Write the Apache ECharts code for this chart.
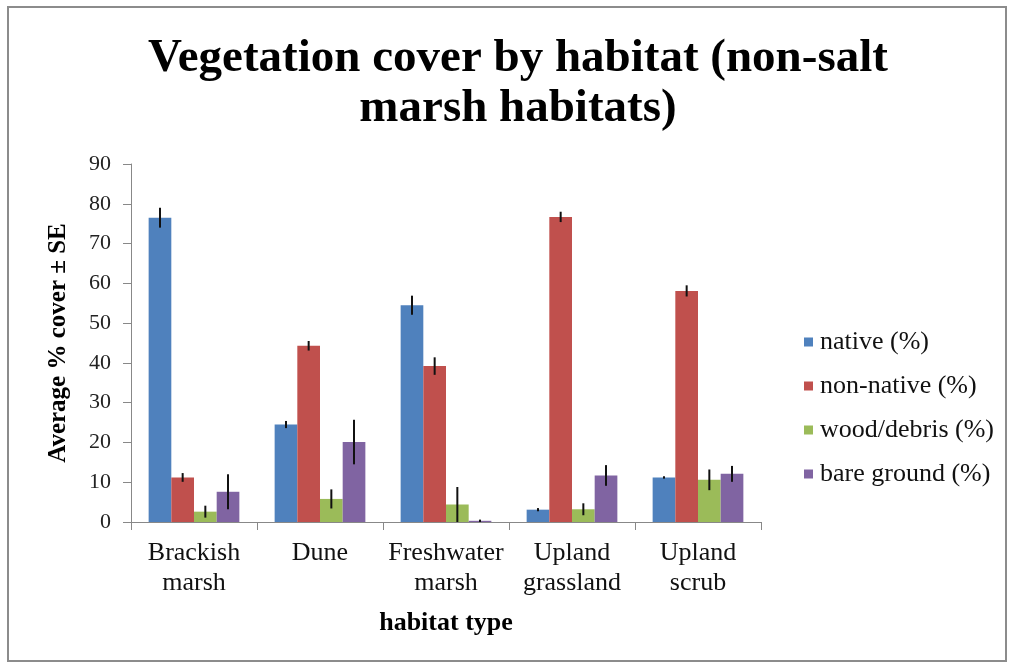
<!DOCTYPE html>
<html>
<head>
<meta charset="utf-8">
<script src="https://cdn.jsdelivr.net/npm/echarts@6/dist/echarts.min.js"></script>
<style>
html,body{margin:0;padding:0;background:#fff;}
#chart{width:1010px;height:664px;}
</style>
</head>
<body>
<div id="chart"></div>
<script>
const categories = ['Brackish\nmarsh', 'Dune', 'Freshwater\nmarsh', 'Upland\ngrassland', 'Upland\nscrub'];
const seriesNames = ['native (%)', 'non-native (%)', 'wood/debris (%)', 'bare ground (%)'];
const nativeVals = [76.5, 24.5, 54.5, 3.1, 11.2];
const nonNativeVals = [11.2, 44.3, 39.2, 76.7, 58.1];
const woodVals = [2.6, 5.8, 4.4, 3.2, 10.6];
const bareVals = [7.6, 20.1, 0.3, 11.7, 12.1];
const nativeErr = [2.5, 0.9, 2.4, 0.4, 0.3];
const nonNativeErr = [1.1, 1.2, 2.2, 1.3, 1.4];
const woodErr = [1.5, 2.4, 4.4, 1.5, 2.6];
const bareErr = [4.4, 5.6, 0.3, 2.6, 2.0];
const yTicks = [0, 10, 20, 30, 40, 50, 60, 70, 80, 90];

const values = [nativeVals, nonNativeVals, woodVals, bareVals];
const errors = [nativeErr, nonNativeErr, woodErr, bareErr];
const colors = ['#4F81BD', '#C0504D', '#9BBB59', '#8064A2'];
const catGap = 0.28;
const serif = '"Liberation Serif", "DejaVu Serif", serif';

const chart = echarts.init(document.getElementById('chart'));

const barSeries = seriesNames.map((name, i) => ({
  name: name,
  type: 'bar',
  data: values[i],
  barGap: '0%',
  barCategoryGap: (catGap * 100) + '%',
  itemStyle: { color: colors[i] },
  emphasis: { disabled: true }
}));

const errSeries = seriesNames.map((name, i) => ({
  type: 'custom',
  name: name + ' SE',
  data: values[i].map((v, k) => [k, v, errors[i][k]]),
  encode: { x: 0, y: 1 },
  z: 5,
  silent: true,
  renderItem: function (params, api) {
    const k = api.value(0), v = api.value(1), e = api.value(2);
    const catW = api.size([1, 0])[0];
    const bw = catW * (1 - catGap) / 4;
    const base = api.coord([k, v]);
    const x = base[0] + (i - 1.5) * bw;
    const top = api.coord([k, v + e])[1];
    const bot = api.coord([k, Math.max(0, v - e)])[1];
    return {
      type: 'line',
      shape: { x1: x, y1: top, x2: x, y2: bot },
      style: { stroke: '#111', lineWidth: 2 }
    };
  }
}));

chart.setOption({
  animation: false,
  backgroundColor: '#fff',
  title: {
    text: 'Vegetation cover by habitat (non-salt\nmarsh habitats)',
    top: 29,
    left: 513,
    textAlign: 'center',
    textStyle: { fontFamily: serif, fontWeight: 'bold', fontSize: 47, lineHeight: 50, color: '#000' }
  },
  graphic: [{
    type: 'rect',
    shape: { x: 8, y: 7, width: 998, height: 654 },
    style: { fill: 'none', stroke: '#8c8c8c', lineWidth: 2 },
    silent: true
  }],
  legend: {
    orient: 'vertical',
    left: 799,
    top: 324,
    itemWidth: 9,
    itemHeight: 9,
    itemGap: 18,
    icon: 'rect',
    data: seriesNames,
    textStyle: { fontFamily: serif, fontSize: 26, color: '#111', lineHeight: 26, padding: [0, 0, 0, 2] }
  },
  grid: { left: 131, right: 249, top: 164, bottom: 142 },
  xAxis: {
    type: 'category',
    data: categories,
    name: 'habitat type',
    nameLocation: 'middle',
    nameGap: 88,
    nameTextStyle: { fontFamily: serif, fontWeight: 'bold', fontSize: 26, color: '#000' },
    axisLine: { lineStyle: { color: '#888', width: 1 } },
    axisTick: { show: true, length: 8, lineStyle: { color: '#888' } },
    axisLabel: { fontFamily: serif, fontSize: 26, lineHeight: 30, color: '#111', margin: 16, interval: 0 }
  },
  yAxis: {
    type: 'value',
    min: yTicks[0],
    max: yTicks[yTicks.length - 1],
    interval: 10,
    name: 'Average % cover ± SE',
    nameLocation: 'middle',
    nameGap: 60,
    nameTextStyle: { fontFamily: serif, fontWeight: 'bold', fontSize: 25, color: '#000' },
    splitLine: { show: false },
    axisLine: { show: true, lineStyle: { color: '#888', width: 1 } },
    axisTick: { show: true, length: 8, lineStyle: { color: '#888' } },
    axisLabel: { fontFamily: serif, fontSize: 22, color: '#222', margin: 20 }
  },
  series: barSeries.concat(errSeries)
});
</script>
</body>
</html>
